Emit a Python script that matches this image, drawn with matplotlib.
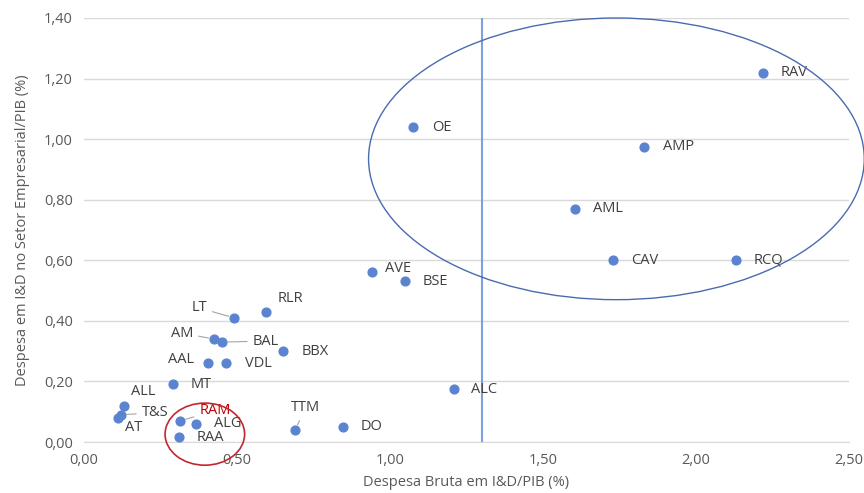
import matplotlib.pyplot as plt
from matplotlib.patches import Ellipse
from matplotlib.ticker import FuncFormatter

plt.rcParams['font.family'] = ['Open Sans', 'DejaVu Sans']

# data
labels = ['RAV', 'OE', 'AMP', 'AML', 'CAV', 'RCQ', 'AVE', 'BSE', 'RLR', 'LT',
          'AM', 'BAL', 'BBX', 'AAL', 'VDL', 'MT', 'ALL', 'T&S', 'AT', 'RAM',
          'ALG', 'RAA', 'TTM', 'DO', 'ALC']
gerd = [2.22, 1.075, 1.83, 1.605, 1.73, 2.13, 0.94, 1.05, 0.595, 0.49,
        0.425, 0.45, 0.65, 0.405, 0.465, 0.29, 0.13, 0.12, 0.11, 0.315,
        0.365, 0.31, 0.69, 0.845, 1.21]
berd = [1.22, 1.04, 0.975, 0.77, 0.60, 0.60, 0.56, 0.53, 0.43, 0.41,
        0.34, 0.33, 0.30, 0.26, 0.26, 0.19, 0.12, 0.09, 0.08, 0.07,
        0.06, 0.015, 0.04, 0.05, 0.175]
ref_line = 1.30

# label offsets in pixels (dx, dy, align, leader)
label_pos = {
    'RAV': (17, 0, 'left', False), 'OE': (19, 0, 'left', False),
    'AMP': (19, 0, 'left', False), 'AML': (18, 0, 'left', False),
    'CAV': (18, 0, 'left', False), 'RCQ': (18, 0, 'left', False),
    'AVE': (13, 4, 'left', False), 'BSE': (17, 0, 'left', False),
    'RLR': (12, 13, 'left', False), 'LT': (-27, 10, 'right', True),
    'AM': (-21, 6, 'right', True), 'BAL': (31, 1, 'left', True),
    'BBX': (19, 0, 'left', False), 'AAL': (-14, 4, 'right', False),
    'VDL': (19, 0, 'left', False), 'MT': (18, 0, 'left', False),
    'ALL': (7, 14, 'left', False), 'T&S': (21, 2, 'left', True),
    'AT': (7, -10, 'left', False), 'RAM': (19, 10, 'left', True),
    'ALG': (18, 0, 'left', False), 'RAA': (18, 0, 'left', False),
    'TTM': (-4, 22, 'left', True), 'DO': (18, 0, 'left', False),
    'ALC': (17, 0, 'left', False),
}

fig = plt.figure(figsize=(8.64, 4.93), dpi=100)
ax = fig.add_axes([0.0972, 0.1034, 0.8854, 0.8601])

ax.scatter(gerd, berd, s=40, color='#5B84D0', zorder=3)
ax.axvline(ref_line, color='#7EA0DC', lw=1.5, zorder=2)

for name, x, y in zip(labels, gerd, berd):
    dx, dy, ha, leader = label_pos[name]
    col = '#C00000' if name == 'RAM' else '#404040'
    arrow = dict(arrowstyle='-', color='#A6A6A6', lw=0.8, shrinkA=2, shrinkB=4) if leader else None
    ax.annotate(name, (x, y), xytext=(dx, dy), textcoords='offset pixels',
                ha=ha, va='center', fontsize=10.5, color=col,
                arrowprops=arrow, zorder=4)

# highlight ellipses
ax.add_patch(Ellipse((1.74, 0.935), 1.62, 0.93, fill=False, ec='#4A6BB0',
                     lw=1.0, clip_on=False, zorder=5))
ax.add_patch(Ellipse((0.395, 0.026), 0.26, 0.205, fill=False, ec='#C0282D',
                     lw=1.2, clip_on=False, zorder=5))

ax.set_xlim(0, 2.5)
ax.set_ylim(0, 1.4)
ax.set_xticks([0, 0.5, 1.0, 1.5, 2.0, 2.5])
ax.set_yticks([0, 0.2, 0.4, 0.6, 0.8, 1.0, 1.2, 1.4])
fmt = FuncFormatter(lambda v, p: f'{v:.2f}'.replace('.', ','))
ax.xaxis.set_major_formatter(fmt)
ax.yaxis.set_major_formatter(fmt)
ax.tick_params(length=0, labelsize=10.5, labelcolor='#595959', pad=8)
ax.grid(axis='y', color='#D9D9D9', lw=1)
ax.set_axisbelow(True)
for s in ['top', 'right', 'left']:
    ax.spines[s].set_visible(False)
ax.spines['bottom'].set_color('#D9D9D9')

ax.set_xlabel('Despesa Bruta em I&D/PIB (%)', fontsize=10.5, color='#595959', labelpad=5)
ax.set_ylabel('Despesa em I&D no Setor Empresarial/PIB (%)', fontsize=10.5, color='#595959', labelpad=10)

fig.savefig('out.png', dpi=100)
